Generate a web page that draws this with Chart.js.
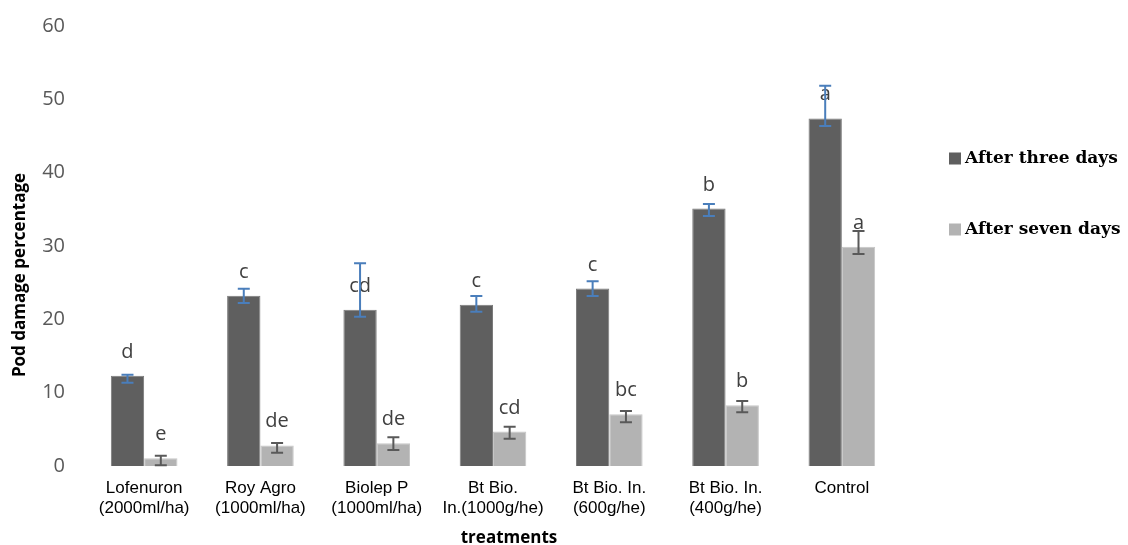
<!DOCTYPE html>
<html>
<head>
<meta charset="utf-8">
<script src="https://cdn.jsdelivr.net/npm/chart.js@4/dist/chart.umd.min.js"></script>
<style>
  html, body { margin: 0; padding: 0; background: #ffffff; }
  #wrap { width: 1128px; height: 545px; }
</style>
</head>
<body>
<div id="wrap"><canvas id="chart" width="1128" height="545"></canvas></div>
<script>
// Treatments (x categories, two-line labels)
const treatments = [
  ['Lofenuron', '(2000ml/ha)'],
  ['Roy Agro', '(1000ml/ha)'],
  ['Biolep P', '(1000ml/ha)'],
  ['Bt Bio.', 'In.(1000g/he)'],
  ['Bt Bio. In.', '(600g/he)'],
  ['Bt Bio. In.', '(400g/he)'],
  'Control'
];

// Mean pod damage (%)
const afterThreeDays = [12.3, 23.2, 21.3, 22.0, 24.2, 35.1, 47.4];
const afterSevenDays = [1.05, 2.8, 3.1, 4.7, 7.05, 8.3, 29.9];

// Error bar ends (low / high values)
const threeDaysErrLow  = [11.36, 22.23, 20.36, 21.04, 23.18, 34.09, 46.36];
const threeDaysErrHigh = [12.45, 24.18, 27.64, 23.18, 25.19, 35.73, 51.86];
const sevenDaysErrLow  = [0.10, 1.81, 2.18, 3.72, 5.96, 7.32, 28.91];
const sevenDaysErrHigh = [1.40, 3.14, 3.91, 5.36, 7.50, 8.86, 32.05];

// Mean separation letters
const threeDaysGroups = ['d', 'c', 'cd', 'c', 'c', 'b', 'a'];
const sevenDaysGroups = ['e', 'de', 'de', 'cd', 'bc', 'b', 'a'];

// Y axis ticks
const yTicks = [0, 10, 20, 30, 40, 50, 60];

const seriesNames = ['After three days', 'After seven days'];
const xTitle = 'treatments';
const yTitle = 'Pod damage percentage';

// Letters above bars, then error bars on top
const errorBarsAndGroups = {
  id: 'errorBarsAndGroups',
  afterDatasetsDraw(chart) {
    const ctx = chart.ctx;
    const yScale = chart.scales.y;
    chart.data.datasets.forEach((ds, i) => {
      const meta = chart.getDatasetMeta(i);
      meta.data.forEach((bar, j) => {
        ctx.save();
        ctx.font = '20px "Open Sans"';
        ctx.fillStyle = '#404040';
        ctx.textAlign = 'center';
        ctx.textBaseline = 'alphabetic';
        ctx.fillText(ds.groups[j], bar.x, bar.y - 18);
        ctx.restore();
      });
    });
    chart.data.datasets.forEach((ds, i) => {
      const meta = chart.getDatasetMeta(i);
      meta.data.forEach((bar, j) => {
        const yHi = yScale.getPixelForValue(ds.errHigh[j]);
        const yLo = yScale.getPixelForValue(ds.errLow[j]);
        const half = 6;
        ctx.save();
        ctx.strokeStyle = ds.errColor;
        ctx.lineWidth = 2;
        ctx.beginPath();
        ctx.moveTo(bar.x, yHi); ctx.lineTo(bar.x, yLo);
        ctx.moveTo(bar.x - half, yHi); ctx.lineTo(bar.x + half, yHi);
        ctx.moveTo(bar.x - half, yLo); ctx.lineTo(bar.x + half, yLo);
        ctx.stroke();
        ctx.restore();
      });
    });
  }
};

// Axis titles and the side legend
const titlesAndLegend = {
  id: 'titlesAndLegend',
  afterDraw(chart) {
    const ctx = chart.ctx;
    ctx.save();
    ctx.fillStyle = '#000000';
    ctx.font = 'bold 17px "Open Sans"';
    ctx.textAlign = 'center';
    ctx.textBaseline = 'alphabetic';
    ctx.fillText(xTitle, 509, 543);
    ctx.translate(20, 275);
    ctx.rotate(-Math.PI / 2);
    ctx.textBaseline = 'middle';
    ctx.fillText(yTitle, 0, 0);
    ctx.restore();

    const rows = [158.5, 229.5];
    chart.data.datasets.forEach((ds, i) => {
      const cy = rows[i];
      ctx.save();
      ctx.fillStyle = ds.backgroundColor;
      ctx.fillRect(949, cy - 6, 12, 12);
      ctx.fillStyle = '#000000';
      ctx.font = 'bold 17px "DejaVu Serif"';
      ctx.textAlign = 'left';
      ctx.textBaseline = 'middle';
      ctx.fillText(ds.label, 965, cy);
      ctx.restore();
    });
  }
};

new Chart(document.getElementById('chart'), {
  type: 'bar',
  data: {
    labels: treatments,
    datasets: [
      {
        label: seriesNames[0],
        data: afterThreeDays,
        backgroundColor: '#5f5f5f',
        borderColor: '#7a7a7a',
        borderWidth: 1,
        errLow: threeDaysErrLow,
        errHigh: threeDaysErrHigh,
        errColor: '#4a7ebb',
        groups: threeDaysGroups
      },
      {
        label: seriesNames[1],
        data: afterSevenDays,
        backgroundColor: '#b3b3b3',
        borderColor: '#c6c6c6',
        borderWidth: 1,
        errLow: sevenDaysErrLow,
        errHigh: sevenDaysErrHigh,
        errColor: '#595959',
        groups: sevenDaysGroups
      }
    ]
  },
  options: {
    responsive: false,
    animation: false,
    devicePixelRatio: 1,
    layout: { padding: { top: 26, right: 228, bottom: 0, left: 0 } },
    datasets: {
      bar: { categoryPercentage: 0.573, barPercentage: 1.0 }
    },
    scales: {
      x: {
        grid: { display: false, drawTicks: false },
        border: { display: false },
        ticks: {
          color: '#000000',
          padding: 13,
          maxRotation: 0,
          autoSkip: false,
          font: { family: '"Liberation Sans", Arial, sans-serif', size: 17, lineHeight: 1.15 }
        },
        afterFit(scale) {
          scale.height = 79;
          scale.paddingLeft = 0;
          scale.paddingRight = 0;
        }
      },
      y: {
        min: 0,
        max: 60,
        grid: { display: false, drawTicks: false },
        border: { display: false },
        ticks: {
          color: '#595959',
          padding: 21,
          font: { family: '"Open Sans", sans-serif', size: 20 }
        },
        afterBuildTicks(scale) { scale.ticks = yTicks.map(v => ({ value: v })); },
        afterFit(scale) {
          scale.width = 86;
          scale.paddingTop = 0;
          scale.paddingBottom = 0;
        }
      }
    },
    plugins: {
      legend: { display: false },
      tooltip: { enabled: false }
    }
  },
  plugins: [errorBarsAndGroups, titlesAndLegend]
});
</script>
</body>
</html>
